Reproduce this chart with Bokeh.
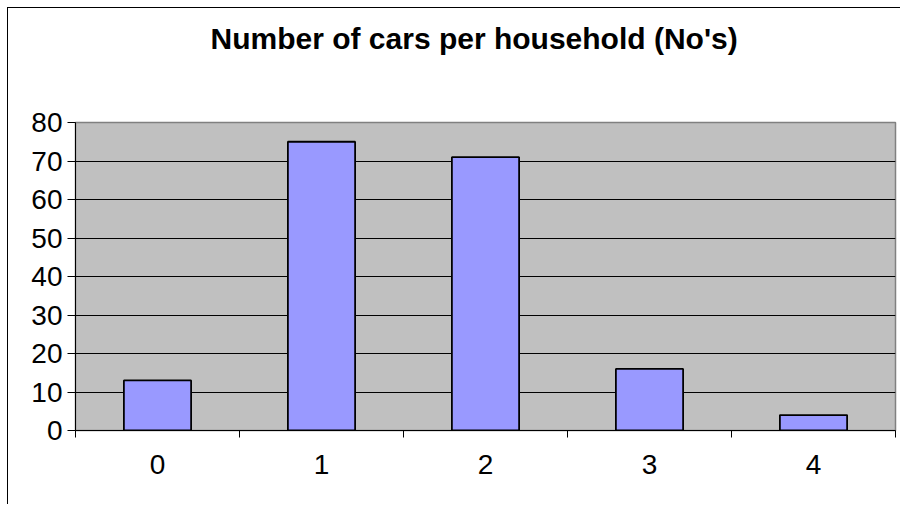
from bokeh.plotting import figure
from bokeh.models import Range1d, FixedTicker, Title
from bokeh.embed import file_html
from bokeh.resources import INLINE

# Data
categories = ["0", "1", "2", "3", "4"]
households = [13, 75, 71, 16, 4]
y_ticks = [0, 10, 20, 30, 40, 50, 60, 70, 80]
title_text = "Number of cars per household (No's)"

centers = [i + 0.5 for i in range(len(categories))]
bounds = [i for i in range(len(categories) + 1)]

FONT = "Liberation Sans"

p = figure(width=893, height=497, output_backend="svg", toolbar_location=None,
           x_range=Range1d(0, len(categories)), y_range=Range1d(0, 80),
           min_border_left=67, min_border_top=114, min_border_right=6, min_border_bottom=75,
           title=title_text)
p.styles = {"border-left": "1px solid black", "border-top": "1px solid black",
            "margin-left": "7px", "margin-top": "7px"}

p.background_fill_color = "#C0C0C0"
p.border_fill_color = "white"
p.outline_line_color = "#808080"
p.outline_line_width = 1.5

# blank spacer between the frame and the title
p.add_layout(Title(text=" ", text_font_size="1px", standoff=60), "above")

p.title.text_font = FONT
p.title.text_font_size = "30px"
p.title.text_font_style = "bold"
p.title.text_color = "black"
p.title.align = "left"
p.title.offset = 135
p.title.standoff = 10

p.vbar(x=centers, top=households, width=0.41, fill_color="#9999FF",
       line_color="black", line_width=1.8)

# y axis
p.yaxis.ticker = FixedTicker(ticks=y_ticks)
p.yaxis.axis_line_color = "black"
p.yaxis.major_tick_line_color = "black"
p.yaxis.major_tick_out = 8
p.yaxis.major_tick_in = 0
p.yaxis.minor_tick_line_color = None
p.yaxis.major_label_text_font = FONT
p.yaxis.major_label_text_font_size = "28px"
p.yaxis.major_label_text_color = "black"
p.yaxis.major_label_standoff = 5

# x axis
p.xaxis.ticker = FixedTicker(ticks=centers, minor_ticks=bounds)
p.xaxis.major_label_overrides = {c: lab for c, lab in zip(centers, categories)}
p.xaxis.axis_line_color = "black"
p.xaxis.major_tick_out = 0
p.xaxis.major_tick_in = 0
p.xaxis.major_tick_line_color = None
p.xaxis.minor_tick_out = 7
p.xaxis.minor_tick_in = 0
p.xaxis.minor_tick_line_color = "black"
p.xaxis.major_label_text_font = FONT
p.xaxis.major_label_text_font_size = "28px"
p.xaxis.major_label_text_color = "black"
p.xaxis.major_label_standoff = 17

p.xgrid.grid_line_color = None
p.ygrid.grid_line_color = "black"
p.ygrid.grid_line_width = 1

open("out.html", "w").write(file_html(p, INLINE))
